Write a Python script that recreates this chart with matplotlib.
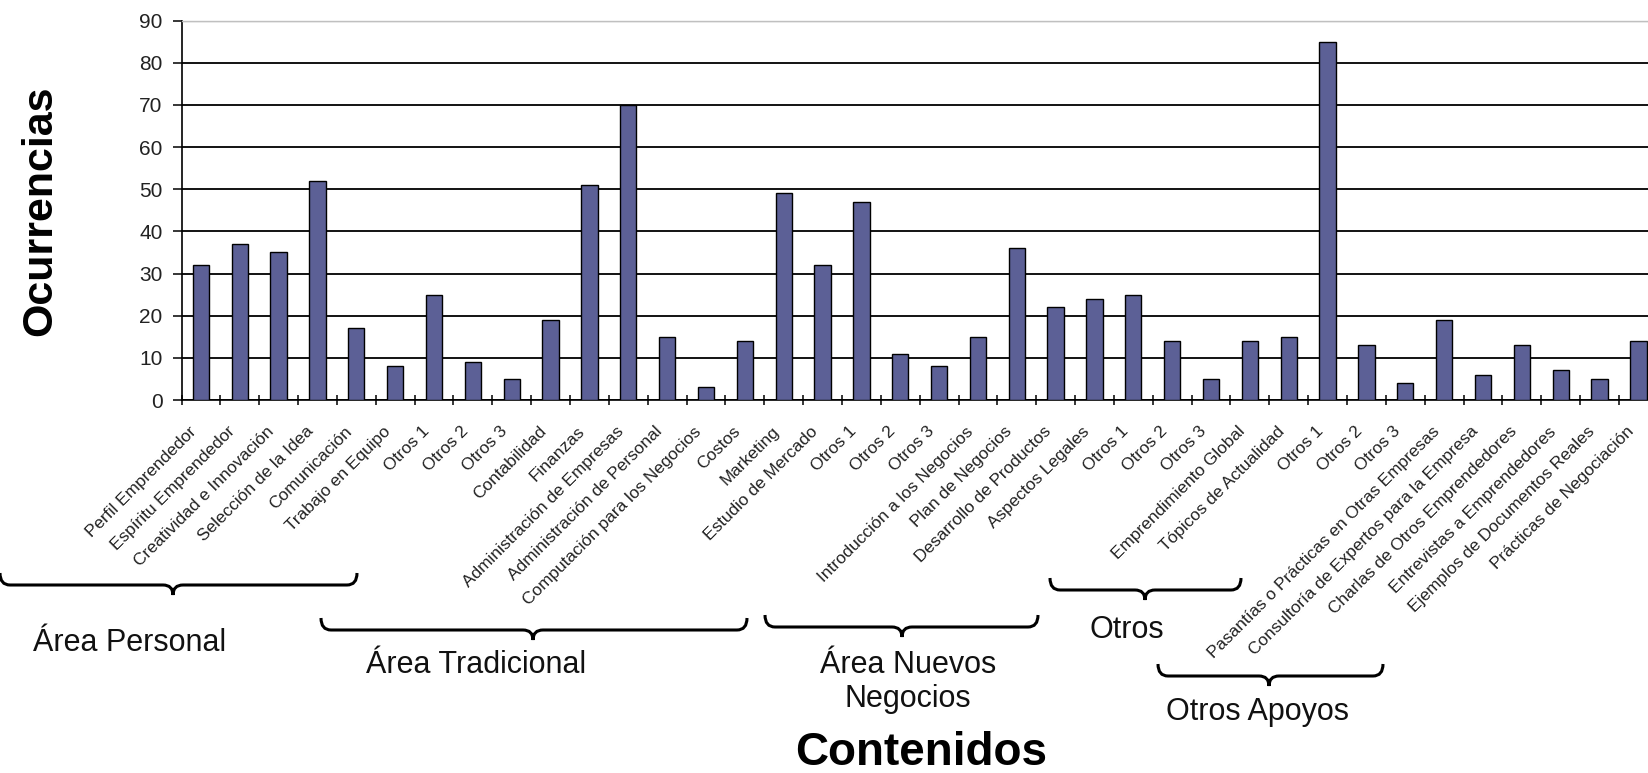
import numpy as np
import matplotlib
matplotlib.use('Agg')
import matplotlib.pyplot as plt
from matplotlib.path import Path
from matplotlib.patches import PathPatch
import matplotlib.transforms as mtransforms

plt.rcParams['font.family'] = ['Liberation Sans', 'DejaVu Sans']

### Datos ###

contenidos = ['Perfil Emprendedor', 'Espíritu Emprendedor', 'Creatividad e Innovación',
              'Selección de la Idea', 'Comunicación', 'Trabajo en Equipo',
              'Otros 1', 'Otros 2', 'Otros 3',
              'Contabilidad', 'Finanzas', 'Administración de Empresas',
              'Administración de Personal', 'Computación para los Negocios', 'Costos',
              'Marketing', 'Estudio de Mercado', 'Otros 1', 'Otros 2', 'Otros 3',
              'Introducción a los Negocios', 'Plan de Negocios', 'Desarrollo de Productos',
              'Aspectos Legales', 'Otros 1', 'Otros 2', 'Otros 3',
              'Emprendimiento Global', 'Tópicos de Actualidad', 'Otros 1', 'Otros 2', 'Otros 3',
              'Pasantías o Prácticas en Otras Empresas', 'Consultoría de Expertos para la Empresa',
              'Charlas de Otros Emprendedores', 'Entrevistas a Emprendedores',
              'Ejemplos de Documentos Reales', 'Prácticas de Negociación']

ocurrencias = [32, 37, 35, 52, 17, 8, 25, 9, 5,
               19, 51, 70, 15, 3, 14,
               49, 32, 47, 11, 8,
               15, 36, 22, 24, 25, 14, 5,
               14, 15, 85, 13, 4,
               19, 6, 13, 7, 5, 14]

# grupos: nombre, llave (x izq, x der, y, punta) y texto (x, y) en pixeles de la figura
grupos = ['Área Personal', 'Área Tradicional', 'Área Nuevos\nNegocios', 'Otros', 'Otros Apoyos']
llaves = [(0, 357, 585, 173), (321, 747, 630, 533), (765, 1038, 627, 902),
          (1050, 1241, 590, 1145), (1158, 1383, 676, 1269)]
textos = [(130, 643), (476, 665), (908, 682), (1127, 630), (1257, 712)]

W, H = 1648, 773
fig = plt.figure(figsize=(W / 100, H / 100), dpi=100)
ax = fig.add_axes([181.5 / W, (H - 400) / H, 38 * 38.85 / W, 379.3 / H])

x = np.arange(len(ocurrencias))
ax.bar(x, ocurrencias, width=0.42, color='#5c6096', edgecolor='black', linewidth=1.0, zorder=3)

ax.set_xlim(-0.5, len(ocurrencias) - 0.5)
ax.set_ylim(0, 90)
ax.set_yticks(np.arange(0, 91, 10))
ax.tick_params(axis='y', direction='out', length=6.5, width=1.1, labelsize=15, pad=7,
               labelcolor='#222222')

ax.set_xticks(x)
ax.set_xticklabels(contenidos, rotation=45, ha='right', va='center', rotation_mode='anchor',
                   fontsize=12.4, color='#222222')
ax.tick_params(axis='x', which='major', length=0, pad=21)
ax.set_xticks(np.arange(-0.5, len(ocurrencias), 1.0), minor=True)
ax.tick_params(axis='x', which='minor', direction='inout', length=7.5, width=1.1)
dx = mtransforms.ScaledTranslation(-7 / 100, 0, fig.dpi_scale_trans)
for lab in ax.get_xticklabels():
    lab.set_transform(lab.get_transform() + dx)

ax.yaxis.grid(True, color='black', linewidth=1.3)
ax.set_axisbelow(True)
ax.get_ygridlines()[-1].set_color('#c0c0c0')
ax.get_ygridlines()[-1].set_linewidth(1.0)

ax.spines['right'].set_visible(False)
ax.spines['top'].set_color('#c0c0c0')
ax.spines['top'].set_linewidth(1.0)
ax.spines['left'].set_linewidth(1.2)
ax.spines['bottom'].set_linewidth(1.2)

fig.text(40 / W, 1 - 211 / H, 'Ocurrencias', rotation=90, fontsize=31, fontweight='bold',
         ha='center', va='center')
fig.text(921 / W, 1 - 753 / H, 'Contenidos', fontsize=33, fontweight='bold',
         ha='center', va='center')


def llave(x0, x1, y, xt, r=10, h=12, d=10):
    pts = [(x0, y - h), (x0, y), (x0 + r, y), (xt - r, y), (xt, y), (xt, y + d),
           (xt, y), (xt + r, y), (x1 - r, y), (x1, y), (x1, y - h)]
    codes = [Path.MOVETO, Path.CURVE3, Path.CURVE3, Path.LINETO, Path.CURVE3, Path.CURVE3,
             Path.CURVE3, Path.CURVE3, Path.LINETO, Path.CURVE3, Path.CURVE3]
    pts = [(px / W, 1 - py / H) for px, py in pts]
    fig.patches.append(PathPatch(Path(pts, codes), facecolor='none', edgecolor='black',
                                 linewidth=2.2, transform=fig.transFigure))


for nombre, (x0, x1, yl, xt), (tx, ty) in zip(grupos, llaves, textos):
    llave(x0, x1, yl, xt)
    fig.text(tx / W, 1 - ty / H, nombre, fontsize=22, ha='center', va='center',
             linespacing=1.15, color='#111111')

fig.savefig('out.png', dpi=100)
